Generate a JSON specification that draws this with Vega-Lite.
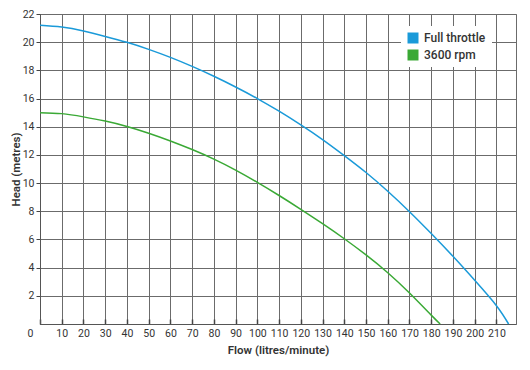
{
  "$schema": "https://vega.github.io/schema/vega-lite/v6.json",
  "width": 476,
  "height": 310,
  "autosize": {"type": "none"},
  "padding": {"left": 40, "top": 14, "right": 14, "bottom": 46},
  "background": "white",
  "config": {
    "font": "Roboto",
    "view": {"stroke": "#6b6b6b", "strokeWidth": 1},
    "axis": {
      "gridColor": "#6b6b6b",
      "gridOpacity": 1,
      "gridWidth": 1,
      "domainColor": "#555555",
      "labelColor": "#333333",
      "titleColor": "#333333",
      "labelFontSize": 10.5,
      "titleFontSize": 11.5,
      "titleFontWeight": 600,
      "tickColor": "#444444"
    }
  },
  "data": {
    "values": [
      {"series": "Full throttle", "flow": 0, "head": 21.2},
      {"series": "Full throttle", "flow": 10, "head": 21.07},
      {"series": "Full throttle", "flow": 20, "head": 20.79},
      {"series": "Full throttle", "flow": 30, "head": 20.41},
      {"series": "Full throttle", "flow": 40, "head": 19.99},
      {"series": "Full throttle", "flow": 50, "head": 19.49},
      {"series": "Full throttle", "flow": 60, "head": 18.92},
      {"series": "Full throttle", "flow": 70, "head": 18.28},
      {"series": "Full throttle", "flow": 80, "head": 17.58},
      {"series": "Full throttle", "flow": 90, "head": 16.82},
      {"series": "Full throttle", "flow": 100, "head": 16.0},
      {"series": "Full throttle", "flow": 110, "head": 15.1},
      {"series": "Full throttle", "flow": 120, "head": 14.13},
      {"series": "Full throttle", "flow": 130, "head": 13.09},
      {"series": "Full throttle", "flow": 140, "head": 11.95},
      {"series": "Full throttle", "flow": 150, "head": 10.75},
      {"series": "Full throttle", "flow": 160, "head": 9.42},
      {"series": "Full throttle", "flow": 170, "head": 7.97},
      {"series": "Full throttle", "flow": 180, "head": 6.42},
      {"series": "Full throttle", "flow": 190, "head": 4.8},
      {"series": "Full throttle", "flow": 200, "head": 3.1},
      {"series": "Full throttle", "flow": 210, "head": 1.3},
      {"series": "Full throttle", "flow": 215.6, "head": 0},
      {"series": "3600 rpm", "flow": 0, "head": 15.0},
      {"series": "3600 rpm", "flow": 10, "head": 14.93},
      {"series": "3600 rpm", "flow": 20, "head": 14.7},
      {"series": "3600 rpm", "flow": 30, "head": 14.4},
      {"series": "3600 rpm", "flow": 40, "head": 14.02},
      {"series": "3600 rpm", "flow": 50, "head": 13.54},
      {"series": "3600 rpm", "flow": 60, "head": 12.99},
      {"series": "3600 rpm", "flow": 70, "head": 12.38},
      {"series": "3600 rpm", "flow": 80, "head": 11.7},
      {"series": "3600 rpm", "flow": 90, "head": 10.92},
      {"series": "3600 rpm", "flow": 100, "head": 10.05},
      {"series": "3600 rpm", "flow": 110, "head": 9.12},
      {"series": "3600 rpm", "flow": 120, "head": 8.14},
      {"series": "3600 rpm", "flow": 130, "head": 7.12},
      {"series": "3600 rpm", "flow": 140, "head": 6.05},
      {"series": "3600 rpm", "flow": 150, "head": 4.9},
      {"series": "3600 rpm", "flow": 160, "head": 3.64},
      {"series": "3600 rpm", "flow": 170, "head": 2.2},
      {"series": "3600 rpm", "flow": 180, "head": 0.63},
      {"series": "3600 rpm", "flow": 184.1, "head": 0}
    ]
  },
  "mark": {"type": "line", "strokeWidth": 1.5, "interpolate": "natural"},
  "encoding": {
    "x": {
      "field": "flow",
      "type": "quantitative",
      "scale": {"domain": [0, 219], "nice": false},
      "axis": {
        "values": [0, 10, 20, 30, 40, 50, 60, 70, 80, 90, 100, 110, 120, 130, 140, 150, 160, 170, 180, 190, 200, 210],
        "title": "Flow (litres/minute)",
        "tickSize": -5,
        "tickWidth": 1.5,
        "labelPadding": 9,
        "labelOffset": {"condition": {"test": "datum.value == 0", "value": -13}, "value": 0},
        "titlePadding": 6
      }
    },
    "y": {
      "field": "head",
      "type": "quantitative",
      "scale": {"domain": [0, 22], "nice": false},
      "axis": {
        "values": [2, 4, 6, 8, 10, 12, 14, 16, 18, 20, 22],
        "title": "Head (metres)",
        "tickSize": 4,
        "labelPadding": 2,
        "titlePadding": 1
      }
    },
    "color": {
      "field": "series",
      "type": "nominal",
      "sort": ["Full throttle", "3600 rpm"],
      "scale": {"domain": ["Full throttle", "3600 rpm"], "range": ["#1a9ad9", "#3aa935"]},
      "legend": {
        "title": null,
        "orient": "none",
        "legendX": 361,
        "legendY": 12,
        "fillColor": "white",
        "padding": 6,
        "rowPadding": 5,
        "symbolType": "square",
        "symbolSize": 121,
        "labelFontSize": 12,
        "labelColor": "#333333",
        "labelFontWeight": 500,
        "labelOffset": 5,
        "encode": {
          "symbols": {
            "update": {
              "fill": {"scale": "color", "field": "value"},
              "strokeWidth": {"value": 0},
              "shape": {"value": "square"}
            }
          }
        }
      }
    }
  }
}
